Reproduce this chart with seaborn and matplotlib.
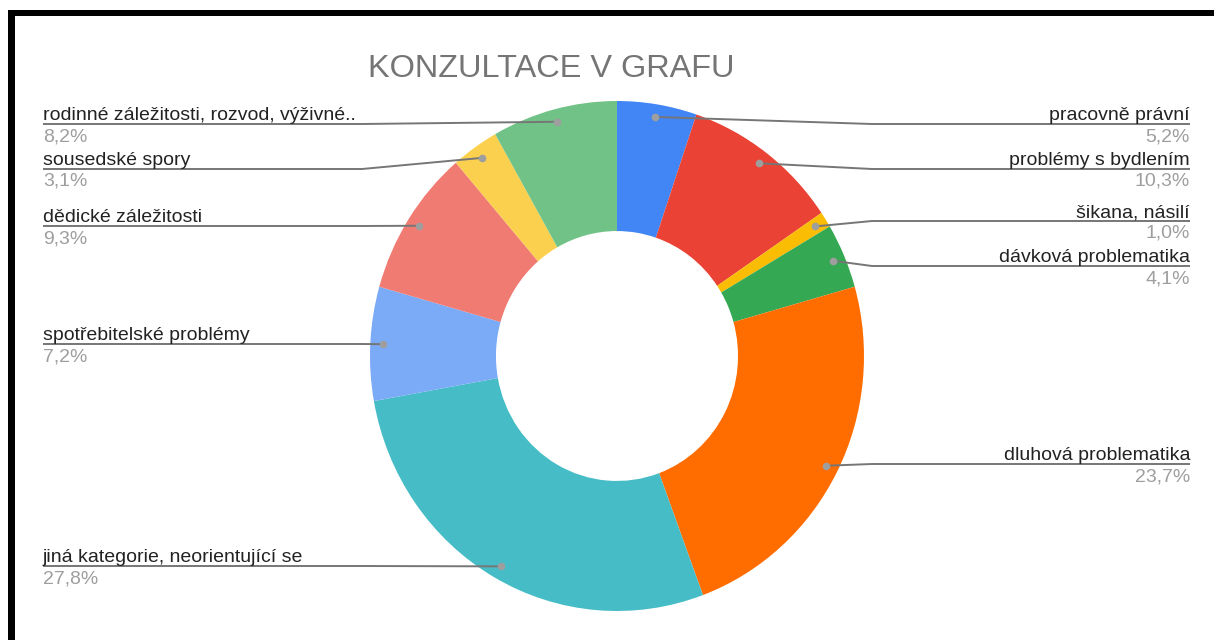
import numpy as np
import matplotlib
matplotlib.use("Agg")
import matplotlib.pyplot as plt
from matplotlib.patches import Rectangle
import seaborn as sns

# ---- data ----
categories = [
    "pracovně právní",
    "problémy s bydlením",
    "šikana, násilí",
    "dávková problematika",
    "dluhová problematika",
    "jiná kategorie, neorientující se",
    "spotřebitelské problémy",
    "dědické záležitosti",
    "sousedské spory",
    "rodinné záležitosti, rozvod, výživné..",
]
values = [5.2, 10.3, 1.0, 4.1, 23.7, 27.8, 7.2, 9.3, 3.1, 8.2]
pct_labels = ["5,2%", "10,3%", "1,0%", "4,1%", "23,7%", "27,8%", "7,2%", "9,3%", "3,1%", "8,2%"]
title = "KONZULTACE V GRAFU"

# ---- style / layout ----
colors = ["#4285F4", "#EA4335", "#FBBC04", "#34A853", "#FF6D01",
          "#46BDC6", "#7BAAF7", "#F07B72", "#FCD04F", "#71C287"]
label_line_y = [124, 169, 221, 266, 464, 566, 344, 226, 169, 124]

sns.set_style("white")
plt.rcParams["font.family"] = ["Liberation Sans", "DejaVu Sans"]

W, H = 1214, 640
fig = plt.figure(figsize=(W / 100, H / 100), dpi=100)
fig.patch.set_facecolor("white")

cx, cy = 617, 356
rx, ry = 247, 255

# pie axes (slightly elliptical like the reference)
axp = fig.add_axes([(cx - rx) / W, (H - (cy + ry)) / H, 2 * rx / W, 2 * ry / H])
axp.pie(values, colors=colors, startangle=90, counterclock=False,
        radius=1.0, wedgeprops=dict(width=0.51, linewidth=0))
axp.set_xlim(-1, 1)
axp.set_ylim(-1, 1)
axp.set_aspect("auto")
axp.axis("off")

# overlay axes in pixel coordinates
ax = fig.add_axes([0, 0, 1, 1], zorder=5)
ax.set_xlim(0, W)
ax.set_ylim(H, 0)
ax.axis("off")
ax.patch.set_alpha(0)

# frame
ax.add_patch(Rectangle((8, 10), 7, H - 10, color="black", lw=0))
ax.add_patch(Rectangle((8, 10), W - 8, 6, color="black", lw=0))

ax.text(551, 77, title, ha="center", va="baseline", fontsize=23.4, color="#757575")

total = sum(values)
cum = np.cumsum([0] + values[:-1])
line_col = "#767676"
for i, (name, v) in enumerate(zip(categories, values)):
    mid = (cum[i] + v / 2) / total * 2 * np.pi
    dx = cx + 0.95 * rx * np.sin(mid)
    dy = cy - 0.95 * ry * np.cos(mid)
    ly = label_line_y[i]
    right = np.sin(mid) > 0
    if right:
        ex, tx, ha = 872, 1190, "right"
    else:
        ex, tx, ha = 362, 43, "left"
    ax.plot([dx, ex, tx], [dy, ly, ly], color=line_col, lw=1.4, solid_capstyle="butt", zorder=3)
    ax.plot([dx], [dy], "o", ms=5.5, color="#9E9E9E", mec="none", zorder=4)
    ax.text(tx, ly - 4, name, ha=ha, va="baseline", fontsize=14, color="#222222")
    ax.text(tx, ly + 4, pct_labels[i], ha=ha, va="top", fontsize=14, color="#9E9E9E")

fig.savefig("out.png", dpi=100, facecolor="white")
